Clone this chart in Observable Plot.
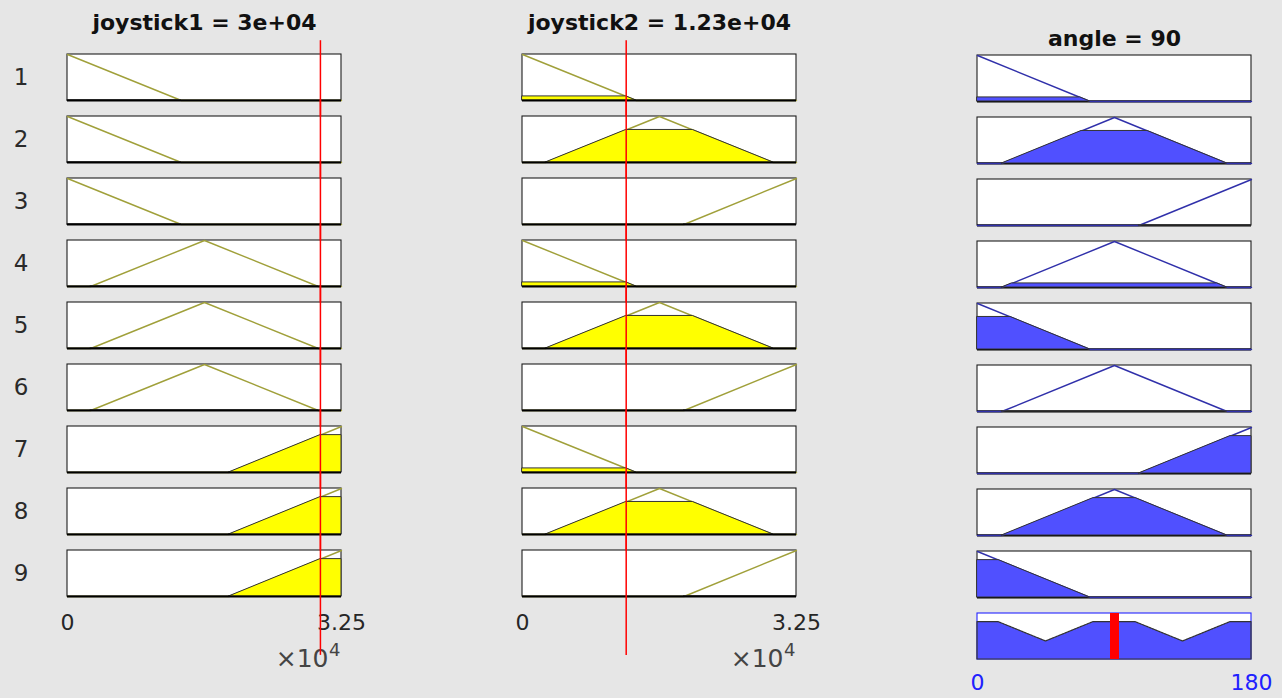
<!DOCTYPE html>
<html>
<head>
<meta charset="utf-8">
<script src="https://cdn.jsdelivr.net/npm/d3@7"></script>
<script src="https://cdn.jsdelivr.net/npm/@observablehq/plot@0.6"></script>
<style>
  html, body { margin: 0; padding: 0; background: #e6e6e6; }
  #chart { display: flex; width: 1282px; height: 698px; overflow: hidden; }
  #chart svg { overflow: visible; display: block; }
</style>
</head>
<body>
<div id="chart"></div>
<script>
// ---------- data ----------
const ruleIds = [1, 2, 3, 4, 5, 6, 7, 8, 9];
const aggRow = 10;

const joyRange = [0, 32500];
const joyLow = [-13500, 0, 13500];
const joyMid = [2750, 16250, 29750];
const joyHigh = [19150, 32500, 45850];

const angleRange = [0, 180];
const angleLow = [-74, 0, 74];
const angleMid = [16, 90, 164];
const angleHigh = [106, 180, 254];

const joystick1Value = 30000;
const joystick2Value = 12300;
const angleValue = 90;

const ruleJoystick1 = ["low", "low", "low", "mid", "mid", "mid", "high", "high", "high"];
const ruleJoystick2 = ["low", "mid", "high", "low", "mid", "high", "low", "mid", "high"];
const ruleAngle = ["low", "mid", "high", "mid", "low", "mid", "high", "mid", "low"];

const joyTicks = [0, 32500];
const joyTickLabels = ["0", "3.25"];
const angleTicks = [0, 180];
const angleTickLabels = ["0", "180"];

const titles = ["joystick1 = 3e+04", "joystick2 = 1.23e+04", "angle = 90"];

// ---------- helpers ----------
const joyMF = {low: joyLow, mid: joyMid, high: joyHigh};
const angleMF = {low: angleLow, mid: angleMid, high: angleHigh};

function trimf(x, p) {
  const [a, b, c] = p;
  if (x <= a || x >= c) return x === b ? 1 : 0;
  return x <= b ? (x - a) / (b - a) : (c - x) / (c - b);
}
function uniqSorted(xs) {
  return Array.from(new Set(xs)).sort((u, v) => u - v);
}
function mfVertices(p, range) {
  const [lo, hi] = range;
  return uniqSorted([lo, hi, ...p].filter(x => x >= lo && x <= hi));
}
function clipVertices(p, range, h) {
  const start = Math.max(range[0], p[0]);
  const end = Math.min(range[1], p[2]);
  const xs = [start, end, p[1], p[0] + h * (p[1] - p[0]), p[2] - h * (p[2] - p[1])];
  return uniqSorted(xs.filter(x => x >= start && x <= end));
}

const FONT = "'DejaVu Sans', 'Liberation Sans', sans-serif";
const olive = "#a0a03a";
const outLine = "#3030aa";
const blueFill = "#5050ff";
const panelEdge = "#1e1e1e";
const patchEdge = "#333333";

function panelRect(rows, range, stroke) {
  return Plot.rect(rows, {
    fy: "row", x1: () => range[0], x2: () => range[1], y1: () => 0, y2: () => 1,
    fill: "white", stroke, strokeWidth: 1.1
  });
}
function titleMark(title, dy) {
  return Plot.text([{row: 1}], {
    fy: "row", frameAnchor: "top", text: () => title, dy,
    lineAnchor: "middle", fontSize: 22, fontWeight: "bold", fill: "#111"
  });
}

const lastRule = ruleIds[ruleIds.length - 1];
const redY1 = d => d.row === lastRule ? -1.28 : -0.36;
const redY2 = d => d.row === ruleIds[0] ? 1.30 : 1.36;

function inputColumn(value, names, title, withRowLabels) {
  const rows = ruleIds.map(row => ({row}));
  const lineData = [], fillData = [];
  ruleIds.forEach((row, i) => {
    const p = joyMF[names[i]];
    const h = trimf(value, p);
    for (const x of mfVertices(p, joyRange)) lineData.push({row, x, y: trimf(x, p)});
    for (const x of clipVertices(p, joyRange, h)) fillData.push({row, x, y: Math.min(trimf(x, p), h)});
  });
  const marks = [
    panelRect(rows, joyRange, panelEdge),
    Plot.line(lineData, {fy: "row", x: "x", y: "y", stroke: olive, strokeWidth: 1.4}),
    Plot.area(fillData, {fy: "row", x1: "x", y1: () => 0, y2: "y", fill: "#ffff00", stroke: patchEdge, strokeWidth: 1}),
    Plot.ruleY(rows, {fy: "row", y: () => 0, x1: () => joyRange[0], x2: () => joyRange[1], stroke: "#000", strokeWidth: 2.2}),
    Plot.axisX({
      ticks: joyTicks, tickFormat: d => joyTickLabels[joyTicks.indexOf(d)],
      tickSize: 0, tickPadding: 18, fontSize: 22, label: null, color: "#262626"
    }),
    Plot.text([{row: lastRule}], {
      fy: "row", x: () => joyRange[1], frameAnchor: "bottom", text: () => "×10",
      textAnchor: "end", lineAnchor: "middle", dx: -13, dy: 62, fontSize: 25, fill: "#444"
    }),
    Plot.text([{row: lastRule}], {
      fy: "row", x: () => joyRange[1], frameAnchor: "bottom", text: () => "4",
      textAnchor: "end", lineAnchor: "middle", dx: -1, dy: 54, fontSize: 18, fill: "#444"
    }),
    titleMark(title, -32),
    Plot.ruleX(rows, {fy: "row", x: () => value, y1: redY1, y2: redY2, stroke: "#ff0000", strokeWidth: 1.5})
  ];
  if (withRowLabels) {
    marks.push(Plot.text(rows, {
      fy: "row", frameAnchor: "left", text: d => String(d.row), textAnchor: "end",
      lineAnchor: "middle", dx: -39, fontSize: 23, fill: "#2a2a2a"
    }));
  }
  return Plot.plot({
    width: 455, height: 698,
    marginLeft: 67, marginRight: 114, marginTop: 54, marginBottom: 102,
    x: {domain: joyRange, axis: null},
    y: {domain: [0, 1], axis: null},
    fy: {domain: ruleIds, paddingInner: 0.26, paddingOuter: 0, axis: null},
    style: {background: "transparent", fontFamily: FONT, overflow: "visible"},
    marks
  });
}

function outputColumn(title) {
  const rows = ruleIds.map(row => ({row}));
  const firing = ruleIds.map((row, i) => Math.max(
    trimf(joystick1Value, joyMF[ruleJoystick1[i]]),
    trimf(joystick2Value, joyMF[ruleJoystick2[i]])
  ));
  const lineData = [], fillData = [];
  ruleIds.forEach((row, i) => {
    const p = angleMF[ruleAngle[i]];
    const h = firing[i];
    for (const x of mfVertices(p, angleRange)) lineData.push({row, x, y: trimf(x, p)});
    for (const x of clipVertices(p, angleRange, h)) fillData.push({row, x, y: Math.min(trimf(x, p), h)});
  });
  const aggData = d3.range(angleRange[0], angleRange[1] + 1e-9, 0.5).map(x => ({
    row: aggRow, x,
    y: d3.max(ruleIds, (r, i) => Math.min(trimf(x, angleMF[ruleAngle[i]]), firing[i]))
  }));
  const marks = [
    panelRect(rows, angleRange, panelEdge),
    panelRect([{row: aggRow}], angleRange, "#2424ff"),
    Plot.ruleY(rows, {fy: "row", y: () => 0, x1: () => angleRange[0], x2: () => angleRange[1], stroke: "#000", strokeWidth: 2.2}),
    Plot.line(lineData, {fy: "row", x: "x", y: "y", stroke: outLine, strokeWidth: 1.4}),
    Plot.area(fillData, {fy: "row", x1: "x", y1: () => 0, y2: "y", fill: blueFill, stroke: patchEdge, strokeWidth: 1}),
    Plot.area(aggData, {fy: "row", x1: "x", y1: () => 0, y2: "y", fill: blueFill, stroke: patchEdge, strokeWidth: 1.2}),
    Plot.ruleX([{row: aggRow}], {fy: "row", x: () => angleValue, stroke: "#ff0000", strokeWidth: 9}),
    Plot.axisX({
      ticks: angleTicks, tickFormat: d => angleTickLabels[angleTicks.indexOf(d)],
      tickSize: 0, tickPadding: 15, fontSize: 22, label: null, color: "#2020ff"
    }),
    titleMark(title, -17)
  ];
  return Plot.plot({
    width: 372, height: 698,
    marginLeft: 67, marginRight: 31, marginTop: 54, marginBottom: 38,
    x: {domain: angleRange, axis: null},
    y: {domain: [0, 1], axis: null},
    fy: {domain: [...ruleIds, aggRow], paddingInner: 0.26, paddingOuter: 0, axis: null},
    style: {background: "transparent", fontFamily: FONT, overflow: "visible"},
    marks
  });
}

const chart = document.getElementById("chart");
chart.append(
  inputColumn(joystick1Value, ruleJoystick1, titles[0], true),
  inputColumn(joystick2Value, ruleJoystick2, titles[1], false),
  outputColumn(titles[2])
);
</script>
</body>
</html>
